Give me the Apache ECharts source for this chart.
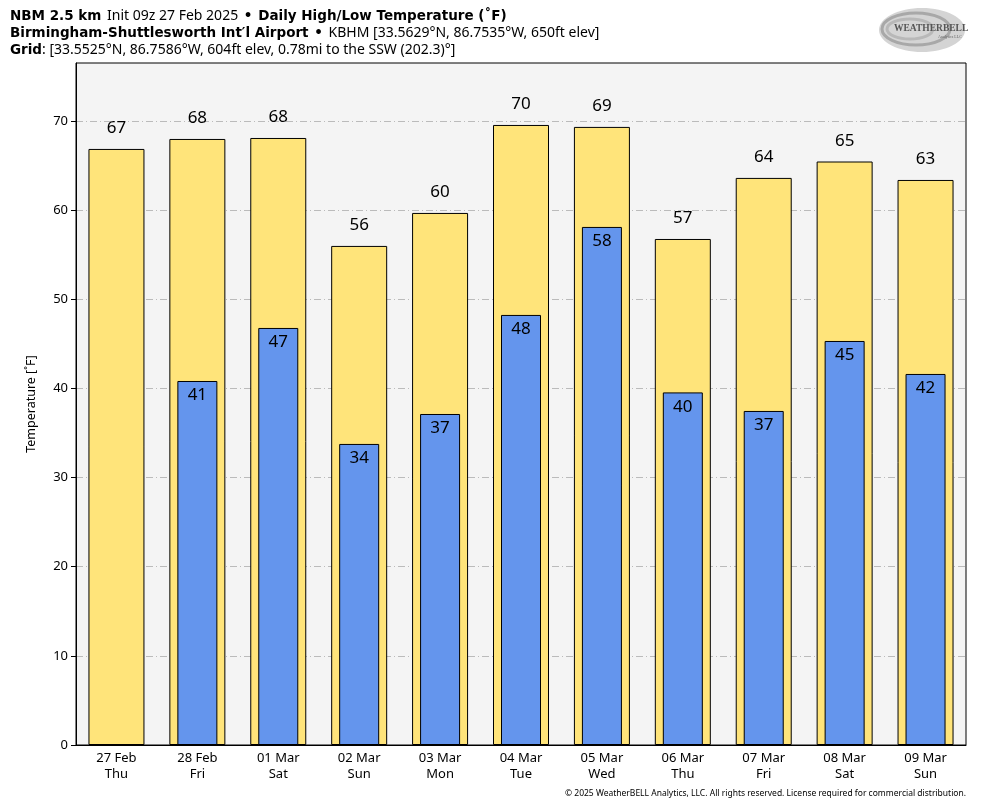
<!DOCTYPE html>
<html><head><meta charset="utf-8">
<script src="https://cdn.jsdelivr.net/npm/echarts@6/dist/echarts.min.js"></script>
<style>html,body{margin:0;padding:0;background:#fff}#c{width:984px;height:808px}</style>
</head><body><div id="c"></div>
<script>
const dates = ['27 Feb','28 Feb','01 Mar','02 Mar','03 Mar','04 Mar','05 Mar','06 Mar','07 Mar','08 Mar','09 Mar'];
const days = ['Thu','Fri','Sat','Sun','Mon','Tue','Wed','Thu','Fri','Sat','Sun'];
const highs = [66.86, 67.98, 68.09, 55.98, 59.68, 69.55, 69.33, 56.76, 63.61, 65.45, 63.38];
const lows = [null, 40.83, 46.78, 33.77, 37.13, 48.24, 58.11, 39.55, 37.47, 45.32, 41.62];
const yTicks = [0,10,20,30,40,50,60,70];

const cats = dates.map((d,i)=>d+'\n'+days[i]);
const font = '"Noto Sans", "DejaVu Sans", sans-serif';
const tfont = '"DejaVu Sans", sans-serif';
const chart = echarts.init(document.getElementById('c'));
chart.setOption({
  animation:false,
  backgroundColor:'#fff',
  textStyle:{fontFamily:font},
  title:{
    left:10, top:8, padding:0,
    text:'{b|NBM 2.5 km} {n|Init 09z 27 Feb 2025} {b|•} {b|Daily High/Low Temperature (˚F)}\n{b|Birmingham-Shuttlesworth Int\u2032l Airport} {b|•} {n|KBHM [33.5629°N, 86.7535°W, 650ft elev]}\n{b|Grid}{n|: [33.5525°N, 86.7586°W, 604ft elev, 0.78mi to the SSW (202.3)°]}',
    textStyle:{
      fontFamily:tfont, lineHeight:17, fontWeight:'normal',
      rich:{
        b:{fontFamily:tfont,fontWeight:'bold',fontSize:13.5,color:'#000',lineHeight:17},
        n:{fontFamily:font,fontWeight:'normal',fontSize:14,color:'#000',lineHeight:17}
      }
    }
  },
  graphic:[
    {type:'ellipse',shape:{cx:922,cy:30,rx:43,ry:22},style:{fill:'#d4d4d4'}},
    {type:'ellipse',shape:{cx:916,cy:29,rx:34,ry:16},style:{fill:'none',stroke:'#a8a8a8',lineWidth:3}},
    {type:'ellipse',shape:{cx:910,cy:29,rx:23,ry:10},style:{fill:'none',stroke:'#b8b8b8',lineWidth:3}},
    {type:'text',left:894,top:24,style:{text:'WEATHERBELL',font:'bold 9.5px serif',fill:'#555'}},
    {type:'text',left:938,top:35,style:{text:'Analytics LLC',font:'4px serif',fill:'#666'}},
    {type:'text',right:18,top:789,style:{text:'© 2025 WeatherBELL Analytics, LLC. All rights reserved. License required for commercial distribution.',font:'8.5px '+font,fill:'#000'}}
  ],
  grid:{left:76,right:18,top:63,bottom:63,show:true,backgroundColor:'#f4f4f4',borderColor:'#000',borderWidth:1},
  xAxis:[
    {type:'category',data:cats,axisTick:{show:false},axisLine:{lineStyle:{color:'#000'}},
     axisLabel:{color:'#000',fontSize:13,lineHeight:16,margin:5,fontFamily:font}},
    {type:'category',data:cats,show:false}
  ],
  yAxis:{type:'value',min:0,max:76.5,interval:10,
    name:'Temperature [˚F]',nameLocation:'middle',nameGap:38,nameTextStyle:{color:'#000',fontSize:12.5,fontFamily:font},
    axisLine:{show:true,lineStyle:{color:'#000'}},
    axisTick:{show:true,length:5,lineStyle:{color:'#000'},customValues:yTicks},
    axisLabel:{color:'#000',fontSize:13,margin:8,fontFamily:font,customValues:yTicks},
    splitLine:{show:true,lineStyle:{color:'#bbb',type:[7,3,1,3],width:1}}
  },
  series:[
    {type:'bar',xAxisIndex:0,data:highs,barWidth:56,
     itemStyle:{color:'#ffe47a',borderColor:'#000',borderWidth:1},
     label:{show:true,position:'top',distance:12,color:'#000',fontSize:17,fontFamily:font,formatter:p=>Math.round(p.value)}},
    {type:'bar',xAxisIndex:1,data:lows,barWidth:40,
     itemStyle:{color:'#6495ed',borderColor:'#000',borderWidth:1},
     label:{show:true,position:'insideTop',distance:6,color:'#000',fontSize:17,fontFamily:font,formatter:p=>Math.round(p.value)}}
  ]
});
</script></body></html>
